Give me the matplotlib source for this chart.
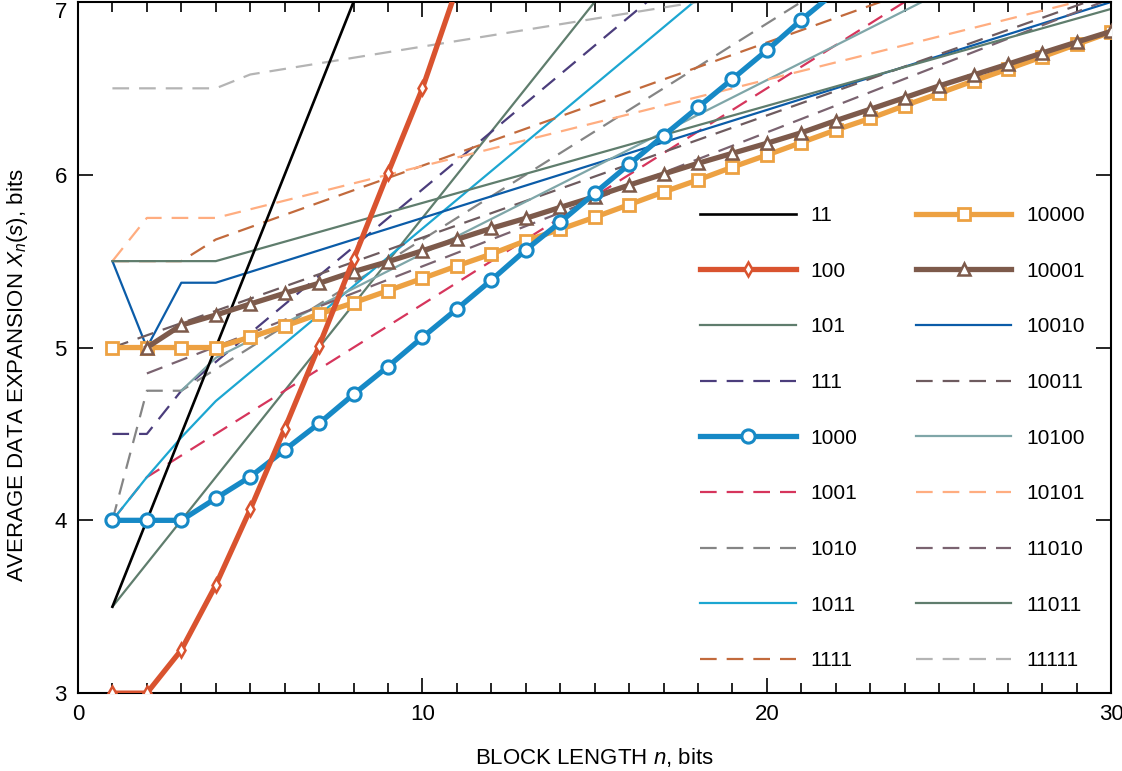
import matplotlib
matplotlib.use("Agg")
import matplotlib.pyplot as plt

plt.rcParams['font.family'] = ['Liberation Sans', 'DejaVu Sans']
plt.rcParams['mathtext.fontset'] = 'custom'
plt.rcParams['mathtext.rm'] = 'Liberation Sans'
plt.rcParams['mathtext.it'] = 'Liberation Sans:italic'

# block length n and average data expansion for each forbidden pattern
x_11 = [1, 8]
y_11 = [3.5, 7.0]

x_100 = [1, 2, 3, 4, 5, 6, 7, 8, 9, 10, 11]
y_100 = [3.0, 3.0, 3.25, 3.625, 4.063, 4.53, 5.01, 5.51, 6.01, 6.5, 7.08]

x_101 = [1, 15]
y_101 = [3.5, 7.0]

x_111 = [1, 2, 3, 17]
y_111 = [4.5, 4.5, 4.75, 7.08]

x_1000 = list(range(1, 23))
y_1000 = [4.0, 4.0, 4.0, 4.127, 4.252, 4.407, 4.561, 4.729, 4.89, 5.059, 5.223,
          5.39, 5.565, 5.725, 5.893, 6.06, 6.226, 6.39, 6.554, 6.72, 6.896, 7.06]

x_1001 = [1, 2, 24]
y_1001 = [4.0, 4.25, 7.0]

x_1010 = [1, 2, 3, 21]
y_1010 = [4.0, 4.75, 4.75, 7.0]

x_1011 = [1, 2, 3, 4, 18]
y_1011 = [4.0, 4.25, 4.48, 4.69, 7.02]

x_1111 = [1, 3, 4, 24]
y_1111 = [5.5, 5.5, 5.625, 7.05]

x_10000 = list(range(1, 31))
y_10000 = [5.0, 5.0, 5.0, 5.0, 5.06, 5.124, 5.194, 5.259, 5.329, 5.40, 5.472,
           5.541, 5.618, 5.684, 5.754, 5.827, 5.90, 5.97, 6.044, 6.114, 6.186,
           6.259, 6.326, 6.40, 6.471, 6.543, 6.612, 6.683, 6.755, 6.826]

x_10001 = list(range(2, 31))
y_10001 = [5.0, 5.13, 5.188, 5.252, 5.314, 5.372, 5.439, 5.497, 5.56, 5.626,
           5.69, 5.748, 5.811, 5.873, 5.94, 6.004, 6.066, 6.124, 6.182, 6.243,
           6.313, 6.379, 6.446, 6.514, 6.577, 6.64, 6.705, 6.768, 6.83]

x_10010 = [1, 2, 3, 4, 30]
y_10010 = [5.5, 5.0, 5.375, 5.375, 7.0]

x_10011 = [1, 30]
y_10011 = [5.0, 7.05]

x_10100 = [3, 4, 25]
y_10100 = [4.75, 4.94, 7.05]

x_10101 = [1, 2, 4, 29]
y_10101 = [5.5, 5.75, 5.75, 7.0]

x_11010 = [2, 30]
y_11010 = [4.85, 7.02]

x_11011 = [1, 4, 30]
y_11011 = [5.5, 5.5, 6.96]

x_11111 = [1, 4, 5, 18]
y_11111 = [6.5, 6.5, 6.58, 7.0]

fig = plt.figure(figsize=(11.22, 7.71), dpi=100)
ax = fig.add_axes([0.0695, 0.101, 0.921, 0.8965])

thin = 1.6
thick = 3.8
dash = (7.5, 4.5)

ax.plot(x_11, y_11, color='black', lw=1.9, label='11', zorder=2.5)
ax.plot(x_100, y_100, color='#d9532f', lw=thick, marker='d', ms=7.5, mfc='white',
        mec='#d9532f', mew=1.8, label='100', zorder=3.4)
ax.plot(x_101, y_101, color='#5f7d6d', lw=thin, label='101')
ax.plot(x_111, y_111, color='#4b3d7c', lw=thin, ls=(0, dash), label='111')
ax.plot(x_1000, y_1000, color='#1689c6', lw=thick, marker='o', ms=9.5, mfc='white',
        mec='#1689c6', mew=2.2, label='1000', zorder=3.3)
ax.plot(x_1001, y_1001, color='#d6355c', lw=thin, ls=(0, dash), label='1001')
ax.plot(x_1010, y_1010, color='#858585', lw=thin, ls=(0, dash), label='1010')
ax.plot(x_1011, y_1011, color='#1ca6d1', lw=thin, label='1011')
ax.plot(x_1111, y_1111, color='#c26a3c', lw=thin, ls=(0, dash), label='1111')
ax.plot(x_10000, y_10000, color='#eda142', lw=thick, marker='s', ms=9, mfc='white',
        mec='#eda142', mew=2.0, label='10000', zorder=3.1)
ax.plot(x_10001, y_10001, color='#7d5a4b', lw=thick, marker='^', ms=8, mfc='white',
        mec='#7d5a4b', mew=1.8, label='10001', zorder=3.2)
ax.plot(x_10010, y_10010, color='#0b5ca8', lw=thin, label='10010')
ax.plot(x_10011, y_10011, color='#6e5b5f', lw=thin, ls=(0, dash), label='10011')
ax.plot(x_10100, y_10100, color='#7fa6a8', lw=thin, label='10100')
ax.plot(x_10101, y_10101, color='#ffad80', lw=thin, ls=(0, dash), label='10101')
ax.plot(x_11010, y_11010, color='#7a6370', lw=thin, ls=(0, dash), label='11010')
ax.plot(x_11011, y_11011, color='#5f7d6d', lw=thin, label='11011')
ax.plot(x_11111, y_11111, color='#b4b4b4', lw=thin, ls=(0, dash), label='11111')

ax.set_xlim(0, 30)
ax.set_ylim(3, 7)
ax.set_xticks([0, 10, 20, 30])
ax.set_xticks(range(0, 31), minor=True)
ax.set_yticks([3, 4, 5, 6, 7])
ax.tick_params(which='both', direction='in', top=True, right=True, labelsize=16, width=1.2)
ax.tick_params(which='major', length=11, pad=8)
ax.tick_params(which='minor', length=7)
for s in ax.spines.values():
    s.set_linewidth(1.5)
# the top label sits at the very edge of the figure, keep it inside
ax.yaxis.get_major_ticks()[-1].label1.set_verticalalignment('top')

ax.set_xlabel('BLOCK LENGTH $n$, bits', fontsize=16)
ax.xaxis.set_label_coords(0.5, -0.076)
ax.set_ylabel('AVERAGE DATA EXPANSION $X_n(s)$, bits', fontsize=16)
ax.yaxis.set_label_coords(-0.046, 0.46)

ax.legend(ncol=2, frameon=False, fontsize=15, handlelength=4.6, handletextpad=0.7,
          columnspacing=2.8, labelspacing=1.76, borderpad=0, borderaxespad=0,
          loc='upper left', bbox_to_anchor=(700 / 1122, 1 - 206 / 771),
          bbox_transform=fig.transFigure)

fig.savefig('out.png', dpi=100)
